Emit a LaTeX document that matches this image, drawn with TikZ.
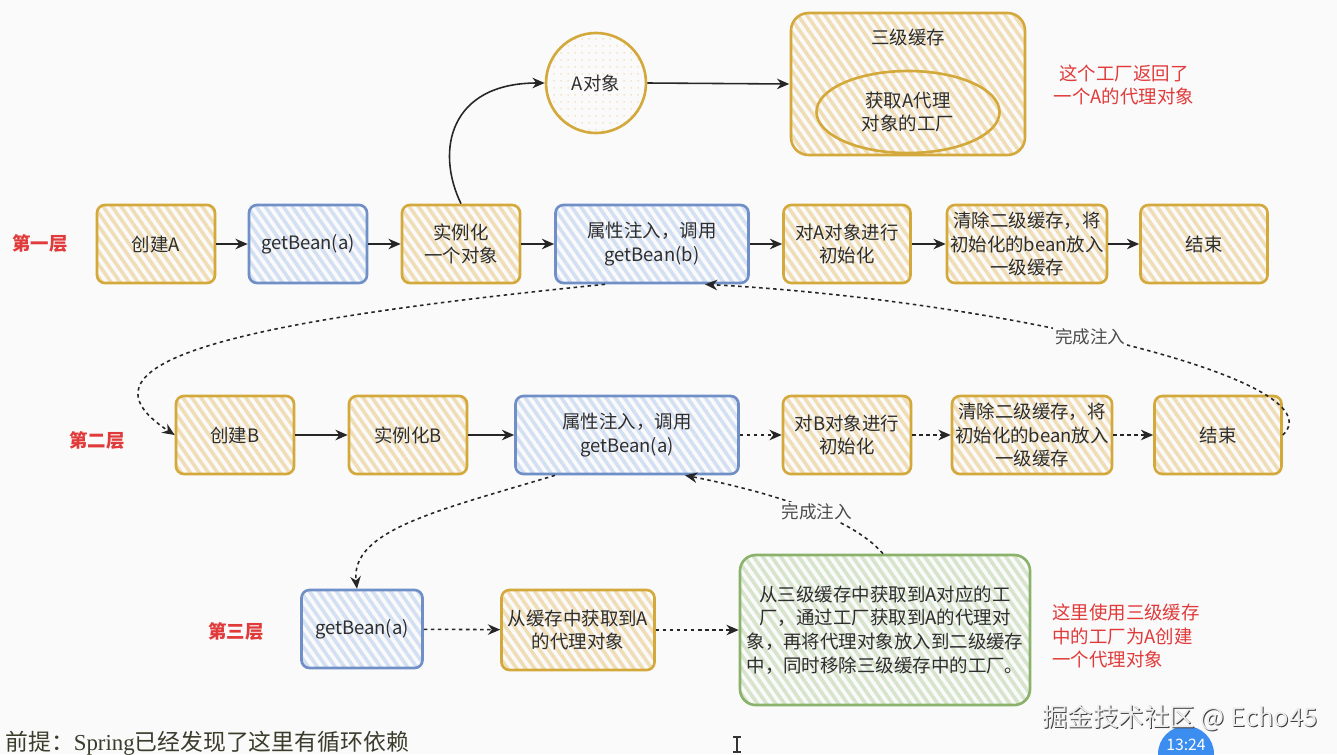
\documentclass[tikz,border=0pt]{standalone}
\usepackage{fontspec}
\setmainfont{Noto Sans CJK SC}
\newfontfamily\lserif{Liberation Serif}
\usetikzlibrary{arrows.meta,patterns,patterns.meta,shapes.geometric}
\definecolor{ostroke}{HTML}{D4A93C}
\definecolor{ohatch}{HTML}{F0DDB5}
\definecolor{bstroke}{HTML}{6F8FC6}
\definecolor{bhatch}{HTML}{D3DFF2}
\definecolor{gstroke}{HTML}{8AB26A}
\definecolor{ghatch}{HTML}{D5E4CB}
\definecolor{redtxt}{HTML}{E03A3A}
\definecolor{txt}{HTML}{2E2E2E}
\definecolor{bgc}{HTML}{FAFAFA}
\definecolor{badge}{HTML}{3C8DF0}
\begin{document}
\begin{tikzpicture}[x=0.02cm,y=-0.02cm,
 base/.style={rectangle, rounded corners=4.5pt, line width=1.5pt, inner sep=0pt, align=center,
   font=\fontsize{10.5}{13.5}\selectfont, text=txt},
 sz/.style n args={2}{minimum width=#1*0.02cm, minimum height=#2*0.02cm},
 obox/.style={base, draw=ostroke, pattern={Lines[angle=-55,distance=4.2pt,line width=2pt]}, pattern color=ohatch},
 bbox/.style={base, draw=bstroke, pattern={Lines[angle=-55,distance=4.2pt,line width=2pt]}, pattern color=bhatch},
 gbox/.style={base, draw=gstroke, pattern={Lines[angle=-55,distance=4.2pt,line width=2pt]}, pattern color=ghatch},
 arr/.style={-{Stealth[length=7pt,width=6pt]}, line width=0.9pt, draw=black!85},
 dotarr/.style={arr, dash pattern=on 2pt off 2pt},
 redlab/.style={font=\fontsize{10.5}{13}\selectfont\bfseries, text=redtxt},
 rednote/.style={font=\fontsize{10.5}{13.2}\selectfont, text=redtxt},
 lbl/.style={font=\fontsize{10}{12}\selectfont, text=black!70, fill=bgc, inner sep=1pt}
]
\useasboundingbox (0,0) rectangle (1337,754);
\fill[bgc] (0,0) rectangle (1337,754);

% top: A object and third-level cache
\node[circle, draw=ostroke, line width=1.5pt, minimum size=100*0.02cm, inner sep=0pt,
  pattern={Dots[radius=0.6pt,distance=4pt]}, pattern color=ohatch,
  font=\fontsize{10.5}{13.5}\selectfont, text=txt] (ao) at (596,83) {A对象};
\node[obox, sz={234}{142}, rounded corners=10pt] (cache) at (908,84) {};
\node[font=\fontsize{10.5}{13.5}\selectfont, text=txt] (cachet) at (908,38) {三级缓存};
\node[ellipse, draw=ostroke, line width=1.5pt, minimum width=183*0.02cm, minimum height=82*0.02cm,
  inner sep=0pt, align=center, font=\fontsize{10.5}{13.5}\selectfont, text=txt] (fac) at (908,112) {获取A代理\\对象的工厂};
\node[rednote, align=center] (n1) at (1124,85) {这个工厂返回了\\一个A的代理对象};

% row 1
\node[redlab] (l1) at (40,244) {第一层};
\node[obox,sz={118}{78}] (c1) at (156,244) {创建A};
\node[bbox,sz={118}{78}] (c2) at (308,244) {getBean(a)};
\node[obox,sz={118}{78}] (c3) at (461,244) {实例化\\一个对象};
\node[bbox,sz={193}{78}] (c4) at (652,244) {属性注入，调用\\getBean(b)};
\node[obox,sz={127}{78}] (c5) at (847,244) {对A对象进行\\初始化};
\node[obox,sz={160}{78}] (c6) at (1027,244) {清除二级缓存，将\\初始化的bean放入\\一级缓存};
\node[obox,sz={127}{78}] (c7) at (1204,244) {结束};

% row 2
\node[redlab] (l2) at (97,440) {第二层};
\node[obox,sz={118}{78}] (d1) at (235,435) {创建B};
\node[obox,sz={118}{78}] (d2) at (408,435) {实例化B};
\node[bbox,sz={223}{78}] (d3) at (627,435) {属性注入，调用\\getBean(a)};
\node[obox,sz={128}{78}] (d4) at (847,435) {对B对象进行\\初始化};
\node[obox,sz={160}{78}] (d5) at (1032,435) {清除二级缓存，将\\初始化的bean放入\\一级缓存};
\node[obox,sz={127}{78}] (d6) at (1218,435) {结束};

% row 3
\node[redlab] (l3) at (236,631) {第三层};
\node[bbox,sz={121}{78}] (e1) at (362,629) {getBean(a)};
\node[obox,sz={153}{80}] (e2) at (578,630) {从缓存中获取到A\\的代理对象};
\node[gbox,sz={290}{150},rounded corners=9pt] (e3) at (885,630) {从三级缓存中获取到A对应的工\\厂，通过工厂获取到A的代理对\\象，再将代理对象放入到二级缓存\\中，同时移除三级缓存中的工厂。};
\node[rednote, align=left, anchor=west] (n2) at (1046,636) {这里使用三级缓存\\中的工厂为A创建\\一个代理对象};

% connectors row 1
\draw[arr] (c1) -- (c2);
\draw[arr] (c2) -- (c3);
\draw[arr] (c3) -- (c4);
\draw[arr] (c4) -- (c5);
\draw[arr] (c5) -- (c6);
\draw[arr] (c6) -- (c7);
\draw[arr] (c3.north) .. controls (435,150) and (450,83) .. (ao.west);
\draw[arr] (ao.east) -- (cache.west);

% row 1 -> row 2
\draw[dotarr] ([xshift=-47*0.02cm]c4.south) .. controls (250,320) and (60,360) .. (d1.west);
\draw[dotarr] (d6.east) .. controls (1340,380) and (1000,300) .. ([xshift=53*0.02cm]c4.south)
  node[lbl, pos=0.55] (lb1) {完成注入};

% connectors row 2
\draw[arr] (d1) -- (d2);
\draw[arr] (d2) -- (d3);
\draw[dotarr] (d3) -- (d4);
\draw[dotarr] (d4) -- (d5);
\draw[dotarr] (d5) -- (d6);

% row 2 -> row 3
\draw[dotarr] ([xshift=-72*0.02cm]d3.south) .. controls (440,510) and (350,530) .. ([xshift=-5*0.02cm]e1.north);
\draw[dotarr] ([xshift=-2*0.02cm]e3.north) .. controls (850,515) and (760,490) .. ([xshift=58*0.02cm]d3.south)
  node[lbl, pos=0.42] (lb2) {完成注入};

% row 3
\draw[dotarr] (e1) -- (e2);
\draw[dotarr] (e2) -- (e3);

% bottom annotations
\node[anchor=base west, font=\fontsize{13}{15}\selectfont, text={rgb,255:red,60;green,60;blue,45}, inner sep=0pt] (pre) at (5,750) {前提：{\lserif Spring}已经发现了这里有循环依赖};
\draw[line width=1.2pt, black!80] (737,737) -- (737,752) (733,737) -- (741,737) (733,752) -- (741,752);
\fill[badge] (1186,754) circle (28);
\node[font=\fontsize{14.5}{16}\selectfont, text=black!75] (wm0) at (1181,719) {掘金技术社区 @ Echo45};
\node[font=\fontsize{14.5}{16}\selectfont, text=white!93!black] (wm) at (1180,718) {掘金技术社区 @ Echo45};
\node[font=\fontsize{9}{10}\selectfont, text=white] (tm) at (1186,745) {13:24};
\end{tikzpicture}
\end{document}
